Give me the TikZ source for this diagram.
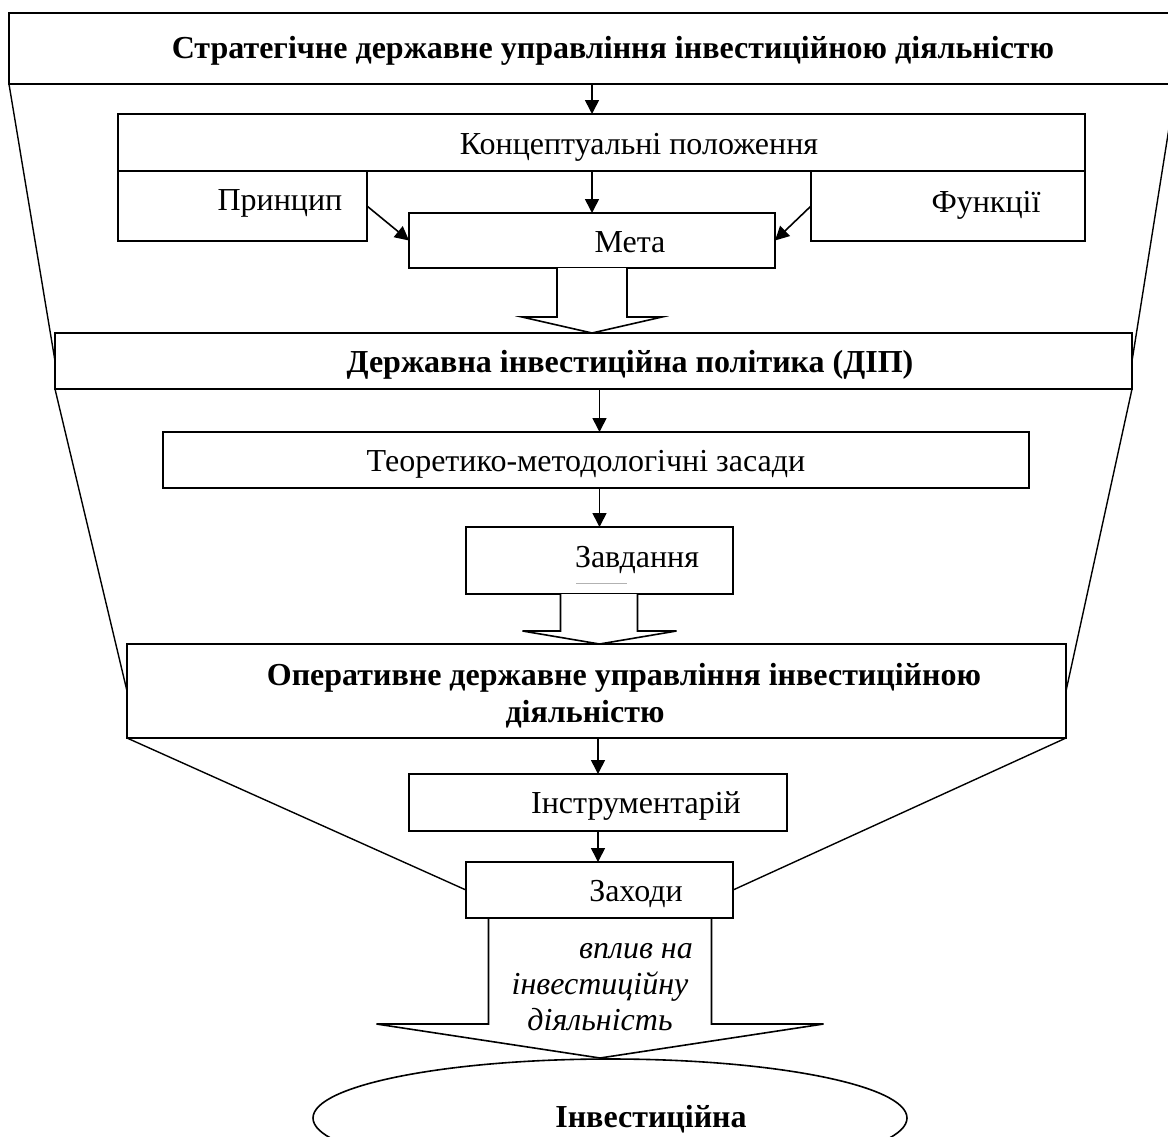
\documentclass[tikz,border=0pt]{standalone}
\usepackage{fontspec}
\setmainfont{Liberation Serif}
\usetikzlibrary{arrows.meta,calc,shapes.geometric}
\begin{document}
\begin{tikzpicture}[x=0.5pt,y=-0.5pt,
  box/.style={draw, line width=0.8pt, rectangle, inner sep=0pt, outer sep=0pt},
  oval/.style={draw, line width=0.8pt, ellipse, inner sep=0pt, outer sep=0pt},
  lbl/.style={inner sep=0pt, anchor=base, font=\fontsize{16}{19}\selectfont},
  blbl/.style={inner sep=0pt, anchor=base, font=\fontsize{16}{19}\selectfont\bfseries},
  ilbl/.style={inner sep=0pt, anchor=base, font=\fontsize{16}{18}\selectfont\itshape},
  arr/.style={-{Triangle[length=7pt,width=7pt]}, line width=0.8pt},
  funnel/.style={line width=0.7pt},
  barrow/.style={draw, line width=0.8pt, fill=white, line join=miter}
]
\useasboundingbox (0,0) rectangle (1168,1136);
\clip (0,0) rectangle (1168,1136);

% boxes
\node[box, minimum width=583.5pt, minimum height=35.5pt] (top) at (592.5,48.5) {};
\node[box, minimum width=483.5pt, minimum height=28.5pt] (konc) at (601.5,142.5) {};
\node[box, minimum width=124.5pt, minimum height=35pt] (princ) at (242.5,206) {};
\node[box, minimum width=137pt, minimum height=35pt] (func) at (948,206) {};
\node[box, minimum width=183pt, minimum height=27.5pt] (meta) at (592,240.5) {};
\node[box, minimum width=538.5pt, minimum height=28pt] (dip) at (593.5,361) {};
\node[box, minimum width=433pt, minimum height=28pt] (teor) at (596,460) {};
\node[box, minimum width=133.5pt, minimum height=33.5pt] (zavd) at (599.5,560.5) {};
\node[box, minimum width=469.5pt, minimum height=47pt] (oper) at (596.5,691) {};
\node[box, minimum width=189pt, minimum height=28.5pt] (instr) at (598,802.5) {};
\node[box, minimum width=133.5pt, minimum height=28pt] (zakh) at (599.5,890) {};
\node[oval, minimum width=297pt, minimum height=59pt] (inv) at (610,1118) {};

% texts
\node[blbl] (ttop) at (613,58) {Стратегічне державне управління інвестиційною діяльністю};
\node[lbl] (tkonc) at (639,154) {Концептуальні положення};
\node[lbl] (tprinc) at (280,210) {Принцип};
\node[lbl] (tfunc) at (986,212) {Функції};
\node[lbl] (tmeta) at (630,252) {Мета};
\node[blbl] (tdip) at (630,372) {Державна інвестиційна політика (ДІП)};
\node[lbl] (tteor) at (586,471) {Теоретико-методологічні засади};
\node[lbl] (tzavd) at (637,567) {Завдання};
\node[blbl] (toper1) at (624,685) {Оперативне державне управління інвестиційною};
\node[blbl] (toper2) at (585,722) {діяльністю};
\node[lbl] (tinstr) at (636,813) {Інструментарій};
\node[lbl] (tzakh) at (636,901) {Заходи};
\node[ilbl] (tv1) at (636,958) {вплив на};
\node[ilbl] (tv2) at (600,994) {інвестиційну};
\node[ilbl] (tv3) at (600,1030) {діяльність};
\node[blbl] (tinv) at (651,1127) {Інвестиційна};

\draw[gray!60, line width=0.4pt] (576,583) -- (627,583);

% funnel lines
\draw[funnel] (top.south west) -- (dip.west);
\draw[funnel] (top.south east) -- (dip.east);
\draw[funnel] (dip.south west) -- (oper.west);
\draw[funnel] (dip.south east) -- (oper.east);
\draw[funnel] (oper.south west) -- (zakh.west);
\draw[funnel] (oper.south east) -- (zakh.east);

% arrows
\draw[arr] (top.south -| meta) -- (konc.north -| meta);
\draw[arr] (konc.south -| meta) -- (meta.north);
\draw[arr] (princ.east) -- (meta.west);
\draw[arr] (func.west) -- (meta.east);
\draw[arr] (dip.south -| zavd) -- (teor.north -| zavd);
\draw[arr] (teor.south -| zavd) -- (zavd.north);
\draw[arr] (oper.south -| instr) -- (instr.north);
\draw[arr] (instr.south) -- (zakh.north -| instr);

% block arrows
\coordinate (t1) at (dip.north -| meta);
\draw[barrow] ($(meta.south)+(-35,0)$) -- ($(meta.south)+(-35,49)$) -- ($(meta.south)+(-70,49)$)
  -- (t1) -- ($(meta.south)+(70,49)$) -- ($(meta.south)+(35,49)$) -- ($(meta.south)+(35,0)$);
\coordinate (t2) at (oper.north -| zavd);
\draw[barrow] ($(zavd.south)+(-39,0)$) -- ($(zavd.south)+(-39,37)$) -- ($(zavd.south)+(-77,37)$)
  -- (t2) -- ($(zavd.south)+(77,37)$) -- ($(zavd.south)+(38,37)$) -- ($(zavd.south)+(38,0)$);
\coordinate (t3) at (600,1058);
\draw[line width=0.8pt, line join=miter] ($(zakh.south)+(-111,0)$) -- ($(zakh.south)+(-111,106)$) -- ($(zakh.south)+(-223,106)$)
  -- (t3) -- ($(zakh.south)+(224,106)$) -- ($(zakh.south)+(112,106)$) -- ($(zakh.south)+(112,0)$);
\end{tikzpicture}
\end{document}
